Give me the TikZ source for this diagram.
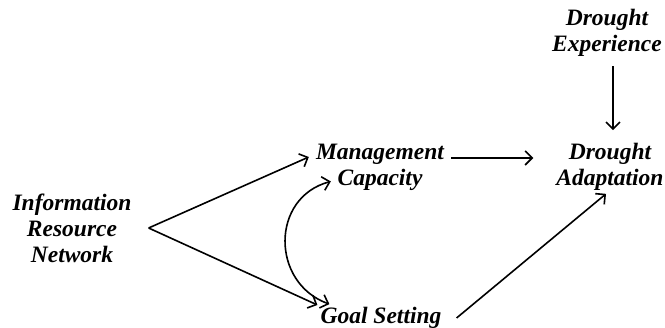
\documentclass[tikz,border=0pt]{standalone}
\usepackage{fontspec}
\setmainfont{Liberation Serif}
\usepackage{tikz}
\usetikzlibrary{arrows.meta, positioning}

\begin{document}
\begin{tikzpicture}[x=1pt, y=1pt, auto,
    concept/.style={align=center, inner sep=3pt, font=\fontsize{23.5}{26}\selectfont\bfseries\itshape},
    link/.style={line width=1.6pt, -{Straight Barb[length=7pt, width=14pt]}}]
            \useasboundingbox (0,0) rectangle (665,328);
            \node[concept] (info) at (72,100) {Information\\Resource\\Network};
            \node[concept] (manage) at (380,161) {Management\\Capacity};
            \node[concept] (goal) at (381,10) {Goal Setting};
            \node[concept] (adapt) at (610,161) {Drought\\Adaptation};
            \node[concept] (exper) [above = 80pt of adapt, xshift=-3pt] {Drought\\Experience};

            % \node[concept] (x) [below = 1cm of goal] {...};

            \path[link]  ([xshift=14pt]info.east) edge ([xshift=-4pt, yshift=10pt]manage.west);
            \path[link]  ([xshift=14pt]info.east) edge ([yshift=13pt]goal.west);
            \path[link]  ([xshift=4pt, yshift=9pt]manage.east) edge ([xshift=-20pt, yshift=9pt]adapt.west);
            \path[link]  ([xshift=12pt]goal.east) edge ([xshift=-4pt]adapt.south);
            \path[link]  ([xshift=6pt, yshift=-6pt]exper.south) edge ([xshift=3pt, yshift=10pt]adapt.north);

            \path ([xshift=-6pt]manage.south west) ++(24pt,12pt) coordinate (mc)
                 (goal.north west) ++(12pt,0) coordinate (gs);
            \path[link, {Straight Barb[length=7pt, width=14pt]}-{Straight Barb[length=7pt, width=14pt]}]  (mc) edge [out=195, in=160, looseness=1.3] (gs);
        \end{tikzpicture}
\end{document}
